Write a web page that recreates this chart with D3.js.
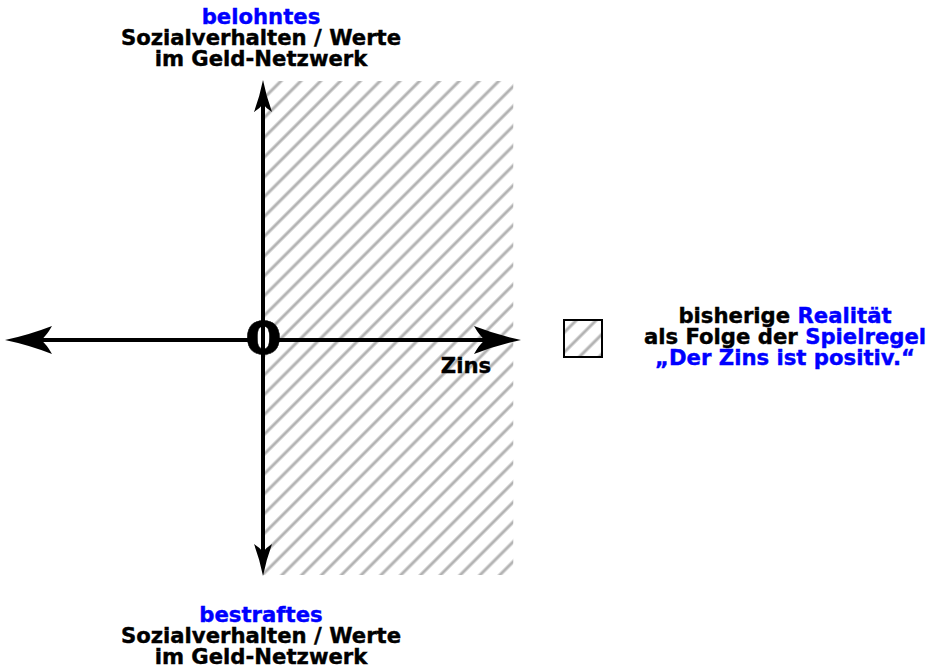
<!DOCTYPE html>
<html>
<head>
<meta charset="utf-8">
<script src="https://cdn.jsdelivr.net/npm/d3@7"></script>
<style>
  body { margin: 0; background: #fff; }
  svg { display: block; }
  text { font-family: "DejaVu Sans", sans-serif; font-weight: bold; stroke-width: 0.4; }
</style>
</head>
<body>
<svg id="chart" width="936" height="668"></svg>
<script>
// concept axes: interest rate (x) vs social behaviour (y), both in [-1, 1]
const xDomain = [-1, 0, 1]
const yDomain = [-1, 0, 1]
// hatched area = positive interest so far
const regionX = [0, 0.97]
const regionY = [-1, 1]
// label lines, each a list of [text, highlighted]
const topLabel = [[["belohntes", true]], [["Sozialverhalten / Werte", false]], [["im Geld-Netzwerk", false]]]
const bottomLabel = [[["bestraftes", true]], [["Sozialverhalten / Werte", false]], [["im Geld-Netzwerk", false]]]
const legendLabel = [
  [["bisherige ", false], ["Realität", true]],
  [["als Folge der ", false], ["Spielregel", true]],
  [["\u201EDer Zins ist positiv.\u201C", true]]
]
const originLabel = "0"
const xAxisLabel = "Zins"

const blue = "#0000ff"
const hatchGrey = "#b3b3b3"
const fontSize = 21.2

let svg = d3.select("#chart")
let x = d3.scaleLinear().domain(xDomain).range([5, 263, 521])
let y = d3.scaleLinear().domain(yDomain).range([576, 340, 80])

let defs = svg.append("defs")
defs.append("pattern")
  .attr("id", "hatch")
  .attr("patternUnits", "userSpaceOnUse")
  .attr("width", 14).attr("height", 14)
  .attr("patternTransform", "rotate(45)")
  .append("line")
  .attr("x1", 4).attr("y1", 0).attr("x2", 4).attr("y2", 14)
  .attr("stroke", hatchGrey).attr("stroke-width", 3)

// hatched region
svg.append("rect")
  .attr("x", x(regionX[0]))
  .attr("y", y(regionY[1]) + 1)
  .attr("width", x(regionX[1]) - x(regionX[0]))
  .attr("height", y(regionY[0]) - y(regionY[1]) - 2)
  .attr("fill", "url(#hatch)")

function arrowHead(len, half, notch) {
  // tip at 0,0 pointing to +x
  return `M0,0 Q${-len * 0.5},${-half * 0.35} ${-len},${-half} Q${-len + notch * 0.5},${-half * 0.3} ${-len + notch},0 Q${-len + notch * 0.5},${half * 0.3} ${-len},${half} Q${-len * 0.5},${half * 0.35} 0,0 Z`
}

let axes = svg.append("g")
// horizontal axis
axes.append("line")
  .attr("x1", x(xDomain[0]) + 30).attr("x2", x(xDomain[2]) - 30)
  .attr("y1", y(0)).attr("y2", y(0))
  .attr("stroke", "#000").attr("stroke-width", 4)
// hide horizontal line in the hole of the zero
axes.append("ellipse")
  .attr("cx", x(0)).attr("cy", y(0) - 2).attr("rx", 7).attr("ry", 11)
  .attr("fill", "#fff")
// vertical axis
axes.append("line")
  .attr("x1", x(0)).attr("x2", x(0))
  .attr("y1", y(yDomain[2]) + 15).attr("y2", y(yDomain[0]) - 15)
  .attr("stroke", "#000").attr("stroke-width", 4)

let heads = [
  { px: x(xDomain[2]), py: y(0), rot: 0, big: true },
  { px: x(xDomain[0]), py: y(0), rot: 180, big: true },
  { px: x(0), py: y(yDomain[2]), rot: -90, big: false },
  { px: x(0), py: y(yDomain[0]), rot: 90, big: false }
]
axes.selectAll("path.head")
  .data(heads).enter()
  .append("path")
  .attr("class", "head")
  .attr("d", d => d.big ? arrowHead(47, 14, 11) : arrowHead(32, 9, 8))
  .attr("transform", d => `translate(${d.px},${d.py}) rotate(${d.rot})`)
  .attr("fill", "#000")

// wide bold zero at the origin
svg.append("text")
  .attr("transform", `translate(${x(0) + 0.5},${y(0) + 14}) scale(1.22,1)`)
  .attr("text-anchor", "middle")
  .attr("font-size", 44)
  .attr("stroke", "#000")
  .text(originLabel)

svg.append("text")
  .attr("x", 466).attr("y", y(0) + 33)
  .attr("text-anchor", "middle")
  .attr("font-size", fontSize)
  .attr("stroke", "#000")
  .text(xAxisLabel)

function multiLine(lines, cx, y0, step) {
  let t = svg.append("text")
    .attr("text-anchor", "middle")
    .attr("font-size", fontSize)
  lines.forEach((segs, i) => {
    let row = t.append("tspan").attr("x", cx).attr("y", y0 + i * step)
    segs.forEach(([s, hl]) => {
      row.append("tspan")
        .attr("fill", hl ? blue : "#000")
        .attr("stroke", hl ? blue : "#000")
        .text(s)
    })
  })
  return t
}

multiLine(topLabel, x(0) - 2, 24, 21)
multiLine(bottomLabel, x(0) - 2, 622, 21)

// legend
svg.append("rect")
  .attr("x", 564).attr("y", 320).attr("width", 38).attr("height", 37)
  .attr("fill", "url(#hatch)")
  .attr("stroke", "#000").attr("stroke-width", 2)
multiLine(legendLabel, 785, 323, 21)
</script>
</body>
</html>
